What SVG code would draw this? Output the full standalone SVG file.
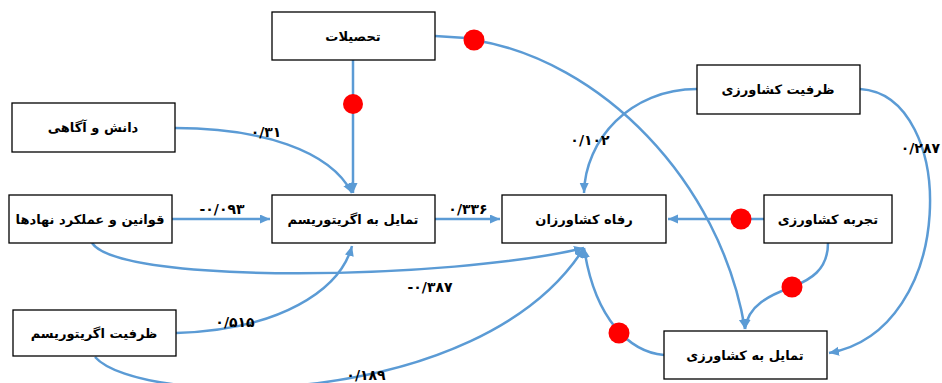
<svg xmlns="http://www.w3.org/2000/svg" width="942" height="383" viewBox="0 0 942 383">
<defs>
<marker id="ah" markerUnits="userSpaceOnUse" markerWidth="12" markerHeight="10" refX="10" refY="4.5" orient="auto">
<path d="M0,0 L10,4.5 L0,9 z" fill="#5B9BD5"/>
</marker>
<style>
.box{fill:#fff;stroke:#000;stroke-width:1.3}
.t{font-family:"DejaVu Sans","Noto Sans",sans-serif;font-size:13px;font-weight:bold;fill:#000;text-anchor:middle}
.c{fill:none;stroke:#5B9BD5;stroke-width:2.5}
.a{marker-end:url(#ah)}
.d{fill:#FF0000}
.l{font-family:"DejaVu Sans","Noto Sans",sans-serif;font-size:14px;font-weight:bold;fill:#000;text-anchor:middle;direction:ltr}
</style>
</defs>
<rect width="942" height="383" fill="#fff"/>
<g id="connectors">
<path class="c a" d="M353,60 L353,193"/>
<circle class="d" cx="353" cy="104" r="10"/>
<path class="c" d="M435,36 L466,38"/>
<path class="c a" d="M474,40 C600,60 720,180 745,329"/>
<circle class="d" cx="474" cy="40" r="10.5"/>
<path class="c a" d="M175,128 C260,128 330,150 352,193"/>
<path class="c a" d="M172,219 L270,219"/>
<path class="c a" d="M92,243 C120,285 450,280 584,248"/>
<path class="c a" d="M176,333 C280,330 340,290 352,246"/>
<path class="c a" d="M95,357 C140,408 480,412 584,248"/>
<path class="c a" d="M435,219 L500,219"/>
<path class="c a" d="M697,89 C630,89 585,140 584,193"/>
<path class="c a" d="M860,89 C958,95 958,330 829,353"/>
<path class="c a" d="M764,219 L668,219"/>
<circle class="d" cx="741" cy="219" r="10.5"/>
<path class="c a" d="M828,243 C828,270 810,280 792,287 C770,295 748,305 745,329"/>
<circle class="d" cx="792" cy="287" r="10.5"/>
<path class="c a" d="M664,355 C630,352 595,320 584,248"/>
<circle class="d" cx="619" cy="333" r="10.5"/>
<text class="l" x="266" y="137">۰/۳۱</text>
<text class="l" x="222" y="214">-۰/۰۹۳</text>
<text class="l" x="468" y="214">۰/۳۳۶</text>
<text class="l" x="430" y="292">-۰/۳۸۷</text>
<text class="l" x="235" y="327">۰/۵۱۵</text>
<text class="l" x="366" y="380">۰/۱۸۹</text>
<text class="l" x="590" y="145">۰/۱۰۲</text>
<text class="l" x="940" y="153" style="text-anchor:end">۰/۲۸۷</text>
</g>
<g id="n1"><rect class="box" x="272" y="12" width="163" height="48"/><text class="t" x="353" y="41">تحصیلات</text></g>
<g id="n2"><rect class="box" x="12" y="103" width="163" height="49"/><text class="t" x="93" y="132">دانش و آگاهی</text></g>
<g id="n3"><rect class="box" x="9" y="195" width="163" height="48"/><text class="t" x="90" y="224">قوانین و عملکرد نهادها</text></g>
<g id="n4"><rect class="box" x="272" y="195" width="163" height="48"/><text class="t" x="353" y="224">تمایل به اگریتوریسم</text></g>
<g id="n5"><rect class="box" x="13" y="310" width="163" height="46"/><text class="t" x="94" y="338">ظرفیت اگریتوریسم</text></g>
<g id="n6"><rect class="box" x="697" y="65" width="163" height="49"/><text class="t" x="778" y="94">ظرفیت کشاورزی</text></g>
<g id="n7"><rect class="box" x="502" y="195" width="164" height="48"/><text class="t" x="584" y="224">رفاه کشاورزان</text></g>
<g id="n8"><rect class="box" x="764" y="195" width="128" height="48"/><text class="t" x="828" y="224">تجربه کشاورزی</text></g>
<g id="n9"><rect class="box" x="664" y="331" width="163" height="48"/><text class="t" x="745" y="360">تمایل به کشاورزی</text></g>
</svg>
